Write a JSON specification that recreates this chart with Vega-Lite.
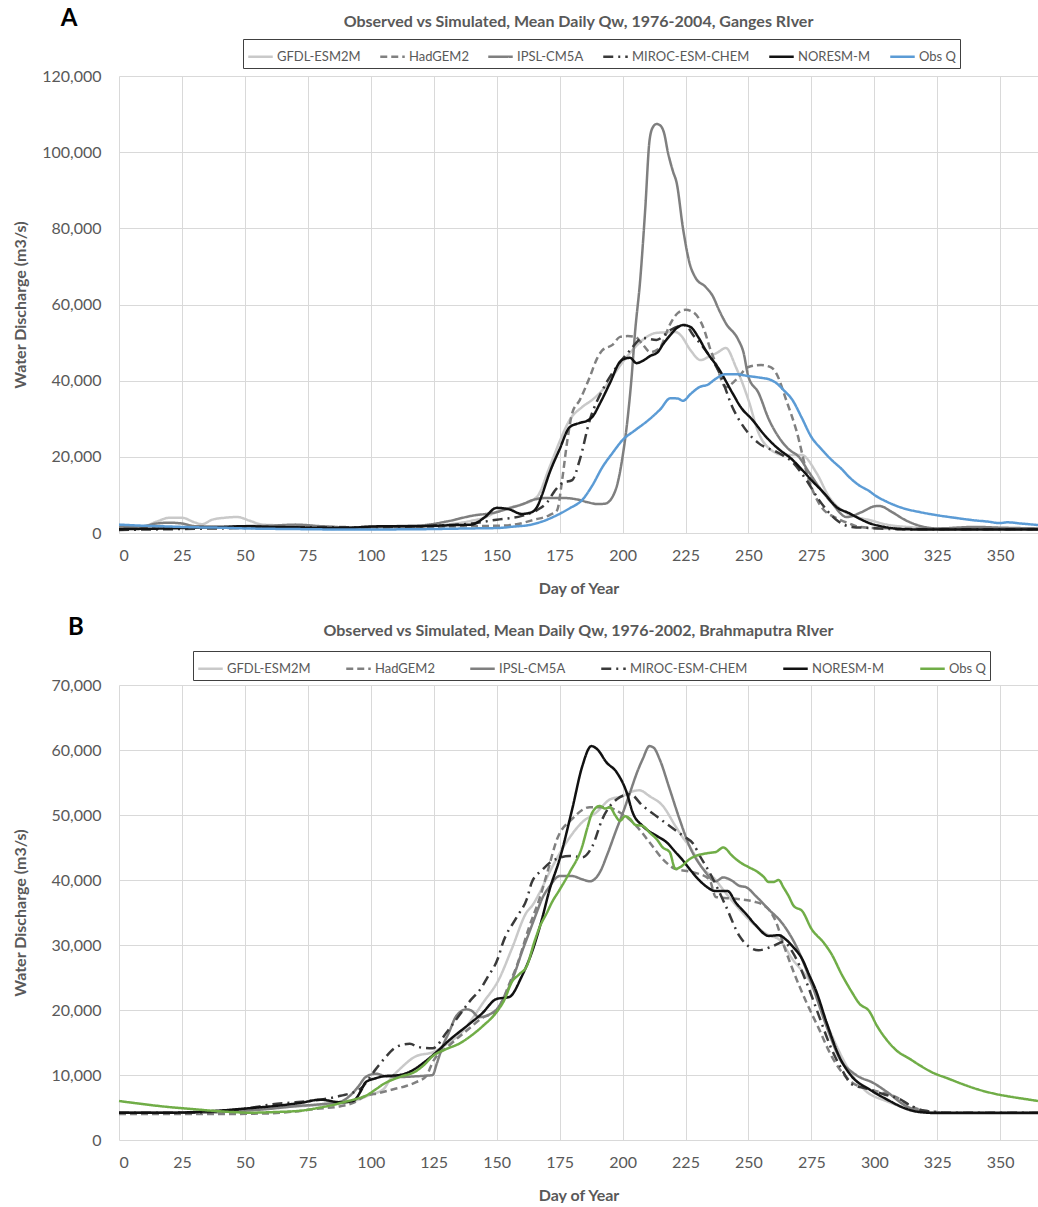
{
"$schema": "https://vega.github.io/schema/vega-lite/v6.json",
"padding": {"left": 12, "top": 7, "right": 0, "bottom": 0},
"background": "white",
"config": {
  "view": {"stroke": null},
  "font": "Lato",
  "title": {"font": "Lato", "fontSize": 16, "fontWeight": "bold", "color": "#595959"},
  "axis": {"labelFont": "Lato", "labelFontSize": 16, "labelColor": "#595959", "titleFont": "Lato", "titleFontSize": 16, "titleFontWeight": "bold", "titleColor": "#595959", "gridColor": "#d9d9d9", "gridWidth": 1, "domain": false, "ticks": false},
  "legend": {"labelFont": "Lato", "labelFontSize": 13, "labelColor": "#595959", "symbolType": "stroke", "symbolSize": 600, "symbolStrokeWidth": 2.5, "strokeColor": "#404040", "padding": 4, "columnPadding": 14, "labelOffset": 3, "direction": "horizontal", "columns": 6, "orient": "none"},
  "concat": {"spacing": 20}
},
"resolve": {"scale": {"color": "independent", "strokeDash": "independent", "x": "independent", "y": "independent"}, "legend": {"color": "independent", "strokeDash": "independent"}},
"datasets": {
"ganges": [
{"s":"GFDL-ESM2M","d":0,"q":1500},{"s":"GFDL-ESM2M","d":10,"q":1800},{"s":"GFDL-ESM2M","d":15,"q":3000},{"s":"GFDL-ESM2M","d":20,"q":4000},{"s":"GFDL-ESM2M","d":25,"q":4000},{"s":"GFDL-ESM2M","d":30,"q":2800},{"s":"GFDL-ESM2M","d":33,"q":2300},{"s":"GFDL-ESM2M","d":37,"q":3500},{"s":"GFDL-ESM2M","d":42,"q":4000},{"s":"GFDL-ESM2M","d":47,"q":4200},{"s":"GFDL-ESM2M","d":52,"q":3200},{"s":"GFDL-ESM2M","d":57,"q":2200},{"s":"GFDL-ESM2M","d":65,"q":2000},{"s":"GFDL-ESM2M","d":75,"q":1800},{"s":"GFDL-ESM2M","d":85,"q":1500},{"s":"GFDL-ESM2M","d":100,"q":1500},{"s":"GFDL-ESM2M","d":110,"q":1600},{"s":"GFDL-ESM2M","d":120,"q":1700},{"s":"GFDL-ESM2M","d":130,"q":2200},{"s":"GFDL-ESM2M","d":140,"q":3200},{"s":"GFDL-ESM2M","d":145,"q":4000},{"s":"GFDL-ESM2M","d":150,"q":5500},{"s":"GFDL-ESM2M","d":156,"q":6800},{"s":"GFDL-ESM2M","d":160,"q":7500},{"s":"GFDL-ESM2M","d":166,"q":9500},{"s":"GFDL-ESM2M","d":171,"q":17300},{"s":"GFDL-ESM2M","d":175,"q":24000},{"s":"GFDL-ESM2M","d":179,"q":29700},{"s":"GFDL-ESM2M","d":184,"q":33100},{"s":"GFDL-ESM2M","d":188,"q":35000},{"s":"GFDL-ESM2M","d":191,"q":36800},{"s":"GFDL-ESM2M","d":195,"q":40000},{"s":"GFDL-ESM2M","d":198,"q":43000},{"s":"GFDL-ESM2M","d":203,"q":47300},{"s":"GFDL-ESM2M","d":208,"q":50700},{"s":"GFDL-ESM2M","d":213,"q":52500},{"s":"GFDL-ESM2M","d":217,"q":52700},{"s":"GFDL-ESM2M","d":221,"q":52800},{"s":"GFDL-ESM2M","d":223,"q":52000},{"s":"GFDL-ESM2M","d":227,"q":48000},{"s":"GFDL-ESM2M","d":231,"q":45400},{"s":"GFDL-ESM2M","d":234,"q":46200},{"s":"GFDL-ESM2M","d":238,"q":47500},{"s":"GFDL-ESM2M","d":241,"q":48600},{"s":"GFDL-ESM2M","d":245,"q":43600},{"s":"GFDL-ESM2M","d":250,"q":34900},{"s":"GFDL-ESM2M","d":254,"q":26300},{"s":"GFDL-ESM2M","d":259,"q":21800},{"s":"GFDL-ESM2M","d":264,"q":20500},{"s":"GFDL-ESM2M","d":271,"q":20500},{"s":"GFDL-ESM2M","d":277,"q":15800},{"s":"GFDL-ESM2M","d":282,"q":9500},{"s":"GFDL-ESM2M","d":289,"q":5200},{"s":"GFDL-ESM2M","d":294,"q":4000},{"s":"GFDL-ESM2M","d":298,"q":3400},{"s":"GFDL-ESM2M","d":305,"q":2200},{"s":"GFDL-ESM2M","d":315,"q":1500},{"s":"GFDL-ESM2M","d":325,"q":1200},{"s":"GFDL-ESM2M","d":340,"q":1300},{"s":"GFDL-ESM2M","d":365,"q":1200},
{"s":"HadGEM2","d":0,"q":1200},{"s":"HadGEM2","d":20,"q":1500},{"s":"HadGEM2","d":40,"q":1500},{"s":"HadGEM2","d":60,"q":1600},{"s":"HadGEM2","d":80,"q":1600},{"s":"HadGEM2","d":100,"q":1500},{"s":"HadGEM2","d":120,"q":1600},{"s":"HadGEM2","d":140,"q":1800},{"s":"HadGEM2","d":150,"q":1900},{"s":"HadGEM2","d":156,"q":2100},{"s":"HadGEM2","d":165,"q":3500},{"s":"HadGEM2","d":171,"q":4700},{"s":"HadGEM2","d":174,"q":6000},{"s":"HadGEM2","d":176,"q":13900},{"s":"HadGEM2","d":178,"q":24000},{"s":"HadGEM2","d":180,"q":31500},{"s":"HadGEM2","d":183,"q":34900},{"s":"HadGEM2","d":187,"q":41000},{"s":"HadGEM2","d":190,"q":46000},{"s":"HadGEM2","d":192,"q":48000},{"s":"HadGEM2","d":196,"q":49400},{"s":"HadGEM2","d":199,"q":51500},{"s":"HadGEM2","d":202,"q":51700},{"s":"HadGEM2","d":205,"q":51500},{"s":"HadGEM2","d":208,"q":49500},{"s":"HadGEM2","d":211,"q":47500},{"s":"HadGEM2","d":213,"q":47800},{"s":"HadGEM2","d":215,"q":48800},{"s":"HadGEM2","d":219,"q":55000},{"s":"HadGEM2","d":222,"q":57800},{"s":"HadGEM2","d":225,"q":58600},{"s":"HadGEM2","d":228,"q":58000},{"s":"HadGEM2","d":232,"q":54100},{"s":"HadGEM2","d":235,"q":48000},{"s":"HadGEM2","d":237,"q":44600},{"s":"HadGEM2","d":241,"q":38300},{"s":"HadGEM2","d":245,"q":40200},{"s":"HadGEM2","d":250,"q":43600},{"s":"HadGEM2","d":255,"q":44100},{"s":"HadGEM2","d":259,"q":43500},{"s":"HadGEM2","d":261,"q":42000},{"s":"HadGEM2","d":265,"q":34900},{"s":"HadGEM2","d":269,"q":27000},{"s":"HadGEM2","d":274,"q":13900},{"s":"HadGEM2","d":279,"q":6800},{"s":"HadGEM2","d":285,"q":3900},{"s":"HadGEM2","d":290,"q":2500},{"s":"HadGEM2","d":294,"q":1600},{"s":"HadGEM2","d":300,"q":1300},{"s":"HadGEM2","d":310,"q":1200},{"s":"HadGEM2","d":330,"q":1000},{"s":"HadGEM2","d":365,"q":1000},
{"s":"IPSL-CM5A","d":0,"q":1500},{"s":"IPSL-CM5A","d":10,"q":1800},{"s":"IPSL-CM5A","d":15,"q":2500},{"s":"IPSL-CM5A","d":20,"q":2700},{"s":"IPSL-CM5A","d":25,"q":2500},{"s":"IPSL-CM5A","d":30,"q":1800},{"s":"IPSL-CM5A","d":40,"q":1700},{"s":"IPSL-CM5A","d":50,"q":1800},{"s":"IPSL-CM5A","d":60,"q":1900},{"s":"IPSL-CM5A","d":70,"q":2200},{"s":"IPSL-CM5A","d":80,"q":1800},{"s":"IPSL-CM5A","d":90,"q":1500},{"s":"IPSL-CM5A","d":100,"q":1600},{"s":"IPSL-CM5A","d":110,"q":1800},{"s":"IPSL-CM5A","d":120,"q":2000},{"s":"IPSL-CM5A","d":130,"q":3000},{"s":"IPSL-CM5A","d":140,"q":4500},{"s":"IPSL-CM5A","d":150,"q":5500},{"s":"IPSL-CM5A","d":155,"q":6500},{"s":"IPSL-CM5A","d":160,"q":7500},{"s":"IPSL-CM5A","d":165,"q":8800},{"s":"IPSL-CM5A","d":170,"q":9200},{"s":"IPSL-CM5A","d":176,"q":9200},{"s":"IPSL-CM5A","d":182,"q":8800},{"s":"IPSL-CM5A","d":186,"q":8100},{"s":"IPSL-CM5A","d":190,"q":7600},{"s":"IPSL-CM5A","d":193,"q":7700},{"s":"IPSL-CM5A","d":196,"q":9500},{"s":"IPSL-CM5A","d":198,"q":13000},{"s":"IPSL-CM5A","d":200,"q":20000},{"s":"IPSL-CM5A","d":202,"q":30000},{"s":"IPSL-CM5A","d":203.5,"q":40200},{"s":"IPSL-CM5A","d":205,"q":53000},{"s":"IPSL-CM5A","d":207,"q":66400},{"s":"IPSL-CM5A","d":209,"q":85000},{"s":"IPSL-CM5A","d":210.7,"q":103000},{"s":"IPSL-CM5A","d":212,"q":106500},{"s":"IPSL-CM5A","d":213.5,"q":107400},{"s":"IPSL-CM5A","d":215,"q":107000},{"s":"IPSL-CM5A","d":216.5,"q":105000},{"s":"IPSL-CM5A","d":218,"q":100000},{"s":"IPSL-CM5A","d":220,"q":95000},{"s":"IPSL-CM5A","d":221.5,"q":91900},{"s":"IPSL-CM5A","d":224,"q":80000},{"s":"IPSL-CM5A","d":226.6,"q":70900},{"s":"IPSL-CM5A","d":229,"q":67000},{"s":"IPSL-CM5A","d":233,"q":64600},{"s":"IPSL-CM5A","d":236,"q":62000},{"s":"IPSL-CM5A","d":238,"q":59000},{"s":"IPSL-CM5A","d":241,"q":55100},{"s":"IPSL-CM5A","d":246,"q":50700},{"s":"IPSL-CM5A","d":248,"q":47500},{"s":"IPSL-CM5A","d":250,"q":41000},{"s":"IPSL-CM5A","d":254,"q":36800},{"s":"IPSL-CM5A","d":258,"q":30000},{"s":"IPSL-CM5A","d":262,"q":25200},{"s":"IPSL-CM5A","d":266,"q":22000},{"s":"IPSL-CM5A","d":270,"q":20000},{"s":"IPSL-CM5A","d":274,"q":16000},{"s":"IPSL-CM5A","d":278,"q":12100},{"s":"IPSL-CM5A","d":283,"q":8000},{"s":"IPSL-CM5A","d":289,"q":4200},{"s":"IPSL-CM5A","d":295,"q":5500},{"s":"IPSL-CM5A","d":300,"q":7000},{"s":"IPSL-CM5A","d":302,"q":7100},{"s":"IPSL-CM5A","d":307,"q":5500},{"s":"IPSL-CM5A","d":312,"q":3500},{"s":"IPSL-CM5A","d":317,"q":2100},{"s":"IPSL-CM5A","d":325,"q":1200},{"s":"IPSL-CM5A","d":340,"q":1600},{"s":"IPSL-CM5A","d":350,"q":1400},{"s":"IPSL-CM5A","d":365,"q":1200},
{"s":"MIROC-ESM-CHEM","d":0,"q":800},{"s":"MIROC-ESM-CHEM","d":20,"q":1000},{"s":"MIROC-ESM-CHEM","d":40,"q":1200},{"s":"MIROC-ESM-CHEM","d":60,"q":1400},{"s":"MIROC-ESM-CHEM","d":80,"q":1500},{"s":"MIROC-ESM-CHEM","d":100,"q":1500},{"s":"MIROC-ESM-CHEM","d":120,"q":1800},{"s":"MIROC-ESM-CHEM","d":140,"q":2500},{"s":"MIROC-ESM-CHEM","d":150,"q":3500},{"s":"MIROC-ESM-CHEM","d":160,"q":4500},{"s":"MIROC-ESM-CHEM","d":166,"q":6000},{"s":"MIROC-ESM-CHEM","d":170,"q":8000},{"s":"MIROC-ESM-CHEM","d":173,"q":11000},{"s":"MIROC-ESM-CHEM","d":176,"q":13100},{"s":"MIROC-ESM-CHEM","d":180,"q":13900},{"s":"MIROC-ESM-CHEM","d":183,"q":19200},{"s":"MIROC-ESM-CHEM","d":187,"q":29700},{"s":"MIROC-ESM-CHEM","d":192,"q":37500},{"s":"MIROC-ESM-CHEM","d":197.6,"q":43600},{"s":"MIROC-ESM-CHEM","d":203,"q":48000},{"s":"MIROC-ESM-CHEM","d":208,"q":51200},{"s":"MIROC-ESM-CHEM","d":213.5,"q":50700},{"s":"MIROC-ESM-CHEM","d":219,"q":53300},{"s":"MIROC-ESM-CHEM","d":225,"q":54600},{"s":"MIROC-ESM-CHEM","d":228,"q":52000},{"s":"MIROC-ESM-CHEM","d":232,"q":48800},{"s":"MIROC-ESM-CHEM","d":238.5,"q":42000},{"s":"MIROC-ESM-CHEM","d":243.6,"q":33100},{"s":"MIROC-ESM-CHEM","d":249.6,"q":26500},{"s":"MIROC-ESM-CHEM","d":254,"q":23600},{"s":"MIROC-ESM-CHEM","d":262,"q":21000},{"s":"MIROC-ESM-CHEM","d":267.5,"q":18600},{"s":"MIROC-ESM-CHEM","d":273,"q":13900},{"s":"MIROC-ESM-CHEM","d":278,"q":8700},{"s":"MIROC-ESM-CHEM","d":285,"q":3400},{"s":"MIROC-ESM-CHEM","d":291,"q":1600},{"s":"MIROC-ESM-CHEM","d":299,"q":1300},{"s":"MIROC-ESM-CHEM","d":310,"q":1000},{"s":"MIROC-ESM-CHEM","d":365,"q":1000},
{"s":"NORESM-M","d":0,"q":1000},{"s":"NORESM-M","d":10,"q":1100},{"s":"NORESM-M","d":20,"q":1200},{"s":"NORESM-M","d":30,"q":1400},{"s":"NORESM-M","d":40,"q":1500},{"s":"NORESM-M","d":50,"q":1800},{"s":"NORESM-M","d":60,"q":1600},{"s":"NORESM-M","d":70,"q":1500},{"s":"NORESM-M","d":80,"q":1300},{"s":"NORESM-M","d":90,"q":1300},{"s":"NORESM-M","d":100,"q":1700},{"s":"NORESM-M","d":110,"q":1800},{"s":"NORESM-M","d":120,"q":1800},{"s":"NORESM-M","d":130,"q":2000},{"s":"NORESM-M","d":135,"q":2100},{"s":"NORESM-M","d":140,"q":2200},{"s":"NORESM-M","d":145,"q":4000},{"s":"NORESM-M","d":150,"q":6600},{"s":"NORESM-M","d":155,"q":6200},{"s":"NORESM-M","d":160,"q":5000},{"s":"NORESM-M","d":164,"q":5500},{"s":"NORESM-M","d":166,"q":6800},{"s":"NORESM-M","d":168,"q":10000},{"s":"NORESM-M","d":171,"q":15800},{"s":"NORESM-M","d":175,"q":22000},{"s":"NORESM-M","d":179,"q":27800},{"s":"NORESM-M","d":183,"q":28900},{"s":"NORESM-M","d":186,"q":29500},{"s":"NORESM-M","d":188,"q":30500},{"s":"NORESM-M","d":191,"q":34000},{"s":"NORESM-M","d":195,"q":39400},{"s":"NORESM-M","d":199,"q":45000},{"s":"NORESM-M","d":201,"q":45800},{"s":"NORESM-M","d":203,"q":46000},{"s":"NORESM-M","d":205.5,"q":44600},{"s":"NORESM-M","d":208,"q":45200},{"s":"NORESM-M","d":211,"q":46500},{"s":"NORESM-M","d":214,"q":47500},{"s":"NORESM-M","d":216,"q":49500},{"s":"NORESM-M","d":219,"q":52000},{"s":"NORESM-M","d":221.5,"q":53800},{"s":"NORESM-M","d":224,"q":54600},{"s":"NORESM-M","d":227,"q":54100},{"s":"NORESM-M","d":230,"q":51500},{"s":"NORESM-M","d":233,"q":48000},{"s":"NORESM-M","d":238.5,"q":42800},{"s":"NORESM-M","d":243.6,"q":36800},{"s":"NORESM-M","d":247,"q":33000},{"s":"NORESM-M","d":251.6,"q":29700},{"s":"NORESM-M","d":256,"q":26000},{"s":"NORESM-M","d":261,"q":22600},{"s":"NORESM-M","d":267.5,"q":19200},{"s":"NORESM-M","d":271,"q":16800},{"s":"NORESM-M","d":275,"q":13900},{"s":"NORESM-M","d":280,"q":10500},{"s":"NORESM-M","d":285,"q":6800},{"s":"NORESM-M","d":290,"q":5200},{"s":"NORESM-M","d":294,"q":3800},{"s":"NORESM-M","d":298,"q":2600},{"s":"NORESM-M","d":304,"q":1600},{"s":"NORESM-M","d":310,"q":1050},{"s":"NORESM-M","d":320,"q":900},{"s":"NORESM-M","d":365,"q":900},
{"s":"Obs Q","d":0,"q":2200},{"s":"Obs Q","d":10,"q":1900},{"s":"Obs Q","d":20,"q":1700},{"s":"Obs Q","d":30,"q":1500},{"s":"Obs Q","d":40,"q":1400},{"s":"Obs Q","d":50,"q":1200},{"s":"Obs Q","d":60,"q":1100},{"s":"Obs Q","d":75,"q":1000},{"s":"Obs Q","d":90,"q":900},{"s":"Obs Q","d":100,"q":900},{"s":"Obs Q","d":110,"q":950},{"s":"Obs Q","d":120,"q":1000},{"s":"Obs Q","d":130,"q":1100},{"s":"Obs Q","d":140,"q":1200},{"s":"Obs Q","d":150,"q":1300},{"s":"Obs Q","d":157,"q":1700},{"s":"Obs Q","d":163,"q":2100},{"s":"Obs Q","d":168,"q":3000},{"s":"Obs Q","d":174,"q":4700},{"s":"Obs Q","d":179,"q":6500},{"s":"Obs Q","d":184,"q":8700},{"s":"Obs Q","d":188,"q":12500},{"s":"Obs Q","d":192,"q":17300},{"s":"Obs Q","d":196,"q":21000},{"s":"Obs Q","d":200,"q":24400},{"s":"Obs Q","d":205,"q":27000},{"s":"Obs Q","d":210,"q":29500},{"s":"Obs Q","d":215,"q":32500},{"s":"Obs Q","d":219,"q":35400},{"s":"Obs Q","d":222,"q":35300},{"s":"Obs Q","d":224,"q":34700},{"s":"Obs Q","d":227,"q":36500},{"s":"Obs Q","d":230.5,"q":38300},{"s":"Obs Q","d":234,"q":39000},{"s":"Obs Q","d":237,"q":40500},{"s":"Obs Q","d":241,"q":41700},{"s":"Obs Q","d":245,"q":41700},{"s":"Obs Q","d":250,"q":41200},{"s":"Obs Q","d":255.5,"q":40700},{"s":"Obs Q","d":258,"q":40400},{"s":"Obs Q","d":261,"q":39400},{"s":"Obs Q","d":264,"q":37500},{"s":"Obs Q","d":267.5,"q":34900},{"s":"Obs Q","d":271,"q":30500},{"s":"Obs Q","d":275,"q":25200},{"s":"Obs Q","d":279,"q":22000},{"s":"Obs Q","d":283,"q":19200},{"s":"Obs Q","d":287,"q":16800},{"s":"Obs Q","d":290,"q":14700},{"s":"Obs Q","d":294,"q":12500},{"s":"Obs Q","d":298,"q":11000},{"s":"Obs Q","d":300,"q":10000},{"s":"Obs Q","d":305,"q":8200},{"s":"Obs Q","d":311,"q":6600},{"s":"Obs Q","d":318,"q":5500},{"s":"Obs Q","d":324.6,"q":4700},{"s":"Obs Q","d":333,"q":3900},{"s":"Obs Q","d":340,"q":3300},{"s":"Obs Q","d":345,"q":3000},{"s":"Obs Q","d":349.6,"q":2600},{"s":"Obs Q","d":353,"q":2800},{"s":"Obs Q","d":358,"q":2500},{"s":"Obs Q","d":365,"q":2100}
],
"brahma": [
{"s":"GFDL-ESM2M","d":0,"q":4200},{"s":"GFDL-ESM2M","d":20,"q":4200},{"s":"GFDL-ESM2M","d":40,"q":4300},{"s":"GFDL-ESM2M","d":50,"q":4600},{"s":"GFDL-ESM2M","d":60,"q":4900},{"s":"GFDL-ESM2M","d":72,"q":5200},{"s":"GFDL-ESM2M","d":80,"q":5400},{"s":"GFDL-ESM2M","d":90,"q":5700},{"s":"GFDL-ESM2M","d":95,"q":6200},{"s":"GFDL-ESM2M","d":100,"q":7000},{"s":"GFDL-ESM2M","d":105,"q":7800},{"s":"GFDL-ESM2M","d":108,"q":9500},{"s":"GFDL-ESM2M","d":111.5,"q":10900},{"s":"GFDL-ESM2M","d":118,"q":12900},{"s":"GFDL-ESM2M","d":124.6,"q":13500},{"s":"GFDL-ESM2M","d":131,"q":15000},{"s":"GFDL-ESM2M","d":136,"q":16500},{"s":"GFDL-ESM2M","d":140,"q":18500},{"s":"GFDL-ESM2M","d":144.4,"q":21000},{"s":"GFDL-ESM2M","d":151,"q":24800},{"s":"GFDL-ESM2M","d":156,"q":29400},{"s":"GFDL-ESM2M","d":162,"q":35100},{"s":"GFDL-ESM2M","d":164,"q":36000},{"s":"GFDL-ESM2M","d":167,"q":38000},{"s":"GFDL-ESM2M","d":171,"q":41200},{"s":"GFDL-ESM2M","d":177.7,"q":45800},{"s":"GFDL-ESM2M","d":184,"q":48900},{"s":"GFDL-ESM2M","d":189.6,"q":50400},{"s":"GFDL-ESM2M","d":195,"q":52400},{"s":"GFDL-ESM2M","d":200,"q":52900},{"s":"GFDL-ESM2M","d":203,"q":53500},{"s":"GFDL-ESM2M","d":206.7,"q":53800},{"s":"GFDL-ESM2M","d":210.7,"q":52900},{"s":"GFDL-ESM2M","d":216,"q":51400},{"s":"GFDL-ESM2M","d":221,"q":48300},{"s":"GFDL-ESM2M","d":224,"q":46500},{"s":"GFDL-ESM2M","d":226.6,"q":45200},{"s":"GFDL-ESM2M","d":232,"q":41700},{"s":"GFDL-ESM2M","d":236,"q":40400},{"s":"GFDL-ESM2M","d":241,"q":38000},{"s":"GFDL-ESM2M","d":246.4,"q":35500},{"s":"GFDL-ESM2M","d":253,"q":32900},{"s":"GFDL-ESM2M","d":258,"q":31500},{"s":"GFDL-ESM2M","d":262,"q":30900},{"s":"GFDL-ESM2M","d":267.5,"q":27800},{"s":"GFDL-ESM2M","d":275.4,"q":23700},{"s":"GFDL-ESM2M","d":282,"q":17100},{"s":"GFDL-ESM2M","d":289,"q":11400},{"s":"GFDL-ESM2M","d":293,"q":9000},{"s":"GFDL-ESM2M","d":297,"q":7400},{"s":"GFDL-ESM2M","d":304.7,"q":6000},{"s":"GFDL-ESM2M","d":310,"q":5200},{"s":"GFDL-ESM2M","d":315,"q":4500},{"s":"GFDL-ESM2M","d":325,"q":4200},{"s":"GFDL-ESM2M","d":365,"q":4200},
{"s":"HadGEM2","d":0,"q":4000},{"s":"HadGEM2","d":20,"q":4000},{"s":"HadGEM2","d":40,"q":4000},{"s":"HadGEM2","d":60,"q":4100},{"s":"HadGEM2","d":70,"q":4400},{"s":"HadGEM2","d":78.6,"q":4800},{"s":"HadGEM2","d":88,"q":5200},{"s":"HadGEM2","d":93,"q":5700},{"s":"HadGEM2","d":98,"q":6800},{"s":"HadGEM2","d":103,"q":7200},{"s":"HadGEM2","d":109,"q":7800},{"s":"HadGEM2","d":114,"q":8300},{"s":"HadGEM2","d":118,"q":8900},{"s":"HadGEM2","d":122,"q":9800},{"s":"HadGEM2","d":124.6,"q":12000},{"s":"HadGEM2","d":131,"q":14500},{"s":"HadGEM2","d":138,"q":16800},{"s":"HadGEM2","d":144.4,"q":18800},{"s":"HadGEM2","d":150,"q":19800},{"s":"HadGEM2","d":152,"q":21200},{"s":"HadGEM2","d":155,"q":24000},{"s":"HadGEM2","d":158,"q":26800},{"s":"HadGEM2","d":163,"q":32900},{"s":"HadGEM2","d":167,"q":37100},{"s":"HadGEM2","d":170,"q":41000},{"s":"HadGEM2","d":174,"q":46300},{"s":"HadGEM2","d":180,"q":49400},{"s":"HadGEM2","d":187,"q":51200},{"s":"HadGEM2","d":193.6,"q":51200},{"s":"HadGEM2","d":200,"q":50100},{"s":"HadGEM2","d":205.5,"q":48300},{"s":"HadGEM2","d":210.7,"q":45800},{"s":"HadGEM2","d":216,"q":43200},{"s":"HadGEM2","d":221,"q":41700},{"s":"HadGEM2","d":228,"q":41200},{"s":"HadGEM2","d":234.5,"q":40100},{"s":"HadGEM2","d":237,"q":37400},{"s":"HadGEM2","d":245,"q":37100},{"s":"HadGEM2","d":253,"q":36600},{"s":"HadGEM2","d":258,"q":35500},{"s":"HadGEM2","d":261,"q":33500},{"s":"HadGEM2","d":264,"q":30000},{"s":"HadGEM2","d":267.5,"q":26300},{"s":"HadGEM2","d":273,"q":21200},{"s":"HadGEM2","d":278,"q":17100},{"s":"HadGEM2","d":283,"q":12900},{"s":"HadGEM2","d":287,"q":10500},{"s":"HadGEM2","d":291,"q":8900},{"s":"HadGEM2","d":296,"q":8000},{"s":"HadGEM2","d":302,"q":7400},{"s":"HadGEM2","d":308.7,"q":6600},{"s":"HadGEM2","d":315,"q":5100},{"s":"HadGEM2","d":320,"q":4500},{"s":"HadGEM2","d":330,"q":4200},{"s":"HadGEM2","d":365,"q":4200},
{"s":"IPSL-CM5A","d":0,"q":4200},{"s":"IPSL-CM5A","d":30,"q":4200},{"s":"IPSL-CM5A","d":40,"q":4300},{"s":"IPSL-CM5A","d":50,"q":4500},{"s":"IPSL-CM5A","d":60,"q":4800},{"s":"IPSL-CM5A","d":70,"q":5200},{"s":"IPSL-CM5A","d":80,"q":5500},{"s":"IPSL-CM5A","d":88,"q":5900},{"s":"IPSL-CM5A","d":91.7,"q":6800},{"s":"IPSL-CM5A","d":95,"q":8200},{"s":"IPSL-CM5A","d":98,"q":9700},{"s":"IPSL-CM5A","d":102,"q":10200},{"s":"IPSL-CM5A","d":106,"q":9800},{"s":"IPSL-CM5A","d":112,"q":9700},{"s":"IPSL-CM5A","d":118,"q":9800},{"s":"IPSL-CM5A","d":122,"q":9900},{"s":"IPSL-CM5A","d":124.6,"q":10000},{"s":"IPSL-CM5A","d":126,"q":11500},{"s":"IPSL-CM5A","d":128.6,"q":14500},{"s":"IPSL-CM5A","d":131,"q":16500},{"s":"IPSL-CM5A","d":134,"q":19100},{"s":"IPSL-CM5A","d":138,"q":20100},{"s":"IPSL-CM5A","d":140,"q":19900},{"s":"IPSL-CM5A","d":143,"q":18900},{"s":"IPSL-CM5A","d":147,"q":19300},{"s":"IPSL-CM5A","d":150,"q":20100},{"s":"IPSL-CM5A","d":154,"q":22800},{"s":"IPSL-CM5A","d":157,"q":25500},{"s":"IPSL-CM5A","d":160,"q":28900},{"s":"IPSL-CM5A","d":163,"q":32000},{"s":"IPSL-CM5A","d":166,"q":35100},{"s":"IPSL-CM5A","d":168,"q":37100},{"s":"IPSL-CM5A","d":171,"q":39000},{"s":"IPSL-CM5A","d":175,"q":40600},{"s":"IPSL-CM5A","d":180,"q":40600},{"s":"IPSL-CM5A","d":184,"q":40100},{"s":"IPSL-CM5A","d":187,"q":39800},{"s":"IPSL-CM5A","d":191,"q":41200},{"s":"IPSL-CM5A","d":194,"q":44000},{"s":"IPSL-CM5A","d":197.6,"q":47800},{"s":"IPSL-CM5A","d":200,"q":50200},{"s":"IPSL-CM5A","d":203,"q":53500},{"s":"IPSL-CM5A","d":206,"q":56800},{"s":"IPSL-CM5A","d":208,"q":58600},{"s":"IPSL-CM5A","d":210.7,"q":60600},{"s":"IPSL-CM5A","d":212.5,"q":60300},{"s":"IPSL-CM5A","d":214.7,"q":58600},{"s":"IPSL-CM5A","d":218.7,"q":54000},{"s":"IPSL-CM5A","d":222.6,"q":49400},{"s":"IPSL-CM5A","d":226.6,"q":45200},{"s":"IPSL-CM5A","d":232,"q":41700},{"s":"IPSL-CM5A","d":237,"q":39800},{"s":"IPSL-CM5A","d":240,"q":40400},{"s":"IPSL-CM5A","d":243,"q":40000},{"s":"IPSL-CM5A","d":246.4,"q":39100},{"s":"IPSL-CM5A","d":249,"q":38900},{"s":"IPSL-CM5A","d":253,"q":37500},{"s":"IPSL-CM5A","d":258,"q":35500},{"s":"IPSL-CM5A","d":263.5,"q":33300},{"s":"IPSL-CM5A","d":269,"q":29800},{"s":"IPSL-CM5A","d":275.4,"q":23700},{"s":"IPSL-CM5A","d":281,"q":17500},{"s":"IPSL-CM5A","d":287,"q":12000},{"s":"IPSL-CM5A","d":291,"q":10500},{"s":"IPSL-CM5A","d":294,"q":9700},{"s":"IPSL-CM5A","d":299,"q":8900},{"s":"IPSL-CM5A","d":305,"q":7400},{"s":"IPSL-CM5A","d":312.7,"q":5200},{"s":"IPSL-CM5A","d":318,"q":4500},{"s":"IPSL-CM5A","d":325,"q":4200},{"s":"IPSL-CM5A","d":365,"q":4200},
{"s":"MIROC-ESM-CHEM","d":0,"q":4200},{"s":"MIROC-ESM-CHEM","d":30,"q":4200},{"s":"MIROC-ESM-CHEM","d":40,"q":4400},{"s":"MIROC-ESM-CHEM","d":50,"q":4800},{"s":"MIROC-ESM-CHEM","d":61,"q":5500},{"s":"MIROC-ESM-CHEM","d":70,"q":5800},{"s":"MIROC-ESM-CHEM","d":80,"q":6200},{"s":"MIROC-ESM-CHEM","d":88,"q":6800},{"s":"MIROC-ESM-CHEM","d":95.6,"q":7800},{"s":"MIROC-ESM-CHEM","d":102,"q":10900},{"s":"MIROC-ESM-CHEM","d":106,"q":12800},{"s":"MIROC-ESM-CHEM","d":109,"q":14000},{"s":"MIROC-ESM-CHEM","d":112,"q":14600},{"s":"MIROC-ESM-CHEM","d":115.5,"q":14800},{"s":"MIROC-ESM-CHEM","d":119,"q":14300},{"s":"MIROC-ESM-CHEM","d":124.6,"q":14100},{"s":"MIROC-ESM-CHEM","d":130,"q":16500},{"s":"MIROC-ESM-CHEM","d":135,"q":19100},{"s":"MIROC-ESM-CHEM","d":139,"q":21200},{"s":"MIROC-ESM-CHEM","d":144.4,"q":23700},{"s":"MIROC-ESM-CHEM","d":146,"q":24800},{"s":"MIROC-ESM-CHEM","d":151,"q":28500},{"s":"MIROC-ESM-CHEM","d":152,"q":29800},{"s":"MIROC-ESM-CHEM","d":158,"q":34300},{"s":"MIROC-ESM-CHEM","d":162,"q":37100},{"s":"MIROC-ESM-CHEM","d":164,"q":39700},{"s":"MIROC-ESM-CHEM","d":168,"q":41500},{"s":"MIROC-ESM-CHEM","d":172,"q":42900},{"s":"MIROC-ESM-CHEM","d":179,"q":43700},{"s":"MIROC-ESM-CHEM","d":184,"q":43500},{"s":"MIROC-ESM-CHEM","d":188,"q":45200},{"s":"MIROC-ESM-CHEM","d":192,"q":49400},{"s":"MIROC-ESM-CHEM","d":197.6,"q":52400},{"s":"MIROC-ESM-CHEM","d":203,"q":53200},{"s":"MIROC-ESM-CHEM","d":208,"q":51400},{"s":"MIROC-ESM-CHEM","d":213.5,"q":49800},{"s":"MIROC-ESM-CHEM","d":218.7,"q":48300},{"s":"MIROC-ESM-CHEM","d":224,"q":46800},{"s":"MIROC-ESM-CHEM","d":228,"q":45600},{"s":"MIROC-ESM-CHEM","d":231,"q":43500},{"s":"MIROC-ESM-CHEM","d":234.5,"q":41200},{"s":"MIROC-ESM-CHEM","d":241,"q":36000},{"s":"MIROC-ESM-CHEM","d":246.4,"q":31400},{"s":"MIROC-ESM-CHEM","d":250,"q":29800},{"s":"MIROC-ESM-CHEM","d":254,"q":29200},{"s":"MIROC-ESM-CHEM","d":259.5,"q":29800},{"s":"MIROC-ESM-CHEM","d":264,"q":30500},{"s":"MIROC-ESM-CHEM","d":267.5,"q":28900},{"s":"MIROC-ESM-CHEM","d":273,"q":24300},{"s":"MIROC-ESM-CHEM","d":278,"q":19100},{"s":"MIROC-ESM-CHEM","d":283,"q":14000},{"s":"MIROC-ESM-CHEM","d":287,"q":10900},{"s":"MIROC-ESM-CHEM","d":291,"q":8600},{"s":"MIROC-ESM-CHEM","d":297,"q":7900},{"s":"MIROC-ESM-CHEM","d":304,"q":7000},{"s":"MIROC-ESM-CHEM","d":310,"q":6300},{"s":"MIROC-ESM-CHEM","d":315,"q":5200},{"s":"MIROC-ESM-CHEM","d":320,"q":4500},{"s":"MIROC-ESM-CHEM","d":330,"q":4200},{"s":"MIROC-ESM-CHEM","d":365,"q":4200},
{"s":"NORESM-M","d":0,"q":4200},{"s":"NORESM-M","d":20,"q":4200},{"s":"NORESM-M","d":39,"q":4500},{"s":"NORESM-M","d":52,"q":4900},{"s":"NORESM-M","d":61,"q":5200},{"s":"NORESM-M","d":72,"q":5700},{"s":"NORESM-M","d":80,"q":6200},{"s":"NORESM-M","d":88,"q":5800},{"s":"NORESM-M","d":93,"q":6000},{"s":"NORESM-M","d":96,"q":7500},{"s":"NORESM-M","d":98,"q":8900},{"s":"NORESM-M","d":102,"q":9500},{"s":"NORESM-M","d":105,"q":9800},{"s":"NORESM-M","d":111.5,"q":10000},{"s":"NORESM-M","d":115.5,"q":10500},{"s":"NORESM-M","d":122,"q":12200},{"s":"NORESM-M","d":126,"q":13500},{"s":"NORESM-M","d":131,"q":15300},{"s":"NORESM-M","d":139,"q":17800},{"s":"NORESM-M","d":144,"q":19400},{"s":"NORESM-M","d":150,"q":21700},{"s":"NORESM-M","d":155,"q":22000},{"s":"NORESM-M","d":160,"q":25200},{"s":"NORESM-M","d":164,"q":28900},{"s":"NORESM-M","d":168,"q":34000},{"s":"NORESM-M","d":171,"q":38500},{"s":"NORESM-M","d":175,"q":43200},{"s":"NORESM-M","d":180,"q":50900},{"s":"NORESM-M","d":184,"q":57500},{"s":"NORESM-M","d":187.6,"q":60600},{"s":"NORESM-M","d":190,"q":60100},{"s":"NORESM-M","d":193.6,"q":58100},{"s":"NORESM-M","d":197.6,"q":56600},{"s":"NORESM-M","d":201.6,"q":53500},{"s":"NORESM-M","d":204,"q":50400},{"s":"NORESM-M","d":208,"q":48300},{"s":"NORESM-M","d":213.5,"q":46800},{"s":"NORESM-M","d":217.5,"q":45800},{"s":"NORESM-M","d":221,"q":44300},{"s":"NORESM-M","d":224,"q":43000},{"s":"NORESM-M","d":226.6,"q":41700},{"s":"NORESM-M","d":232,"q":39400},{"s":"NORESM-M","d":237,"q":38300},{"s":"NORESM-M","d":241.7,"q":38300},{"s":"NORESM-M","d":245,"q":36500},{"s":"NORESM-M","d":249,"q":34800},{"s":"NORESM-M","d":253,"q":33000},{"s":"NORESM-M","d":258,"q":31400},{"s":"NORESM-M","d":262,"q":31500},{"s":"NORESM-M","d":265,"q":30800},{"s":"NORESM-M","d":267.5,"q":29800},{"s":"NORESM-M","d":271.4,"q":27800},{"s":"NORESM-M","d":274,"q":25500},{"s":"NORESM-M","d":277,"q":22800},{"s":"NORESM-M","d":281,"q":18100},{"s":"NORESM-M","d":286,"q":12900},{"s":"NORESM-M","d":291,"q":9800},{"s":"NORESM-M","d":298,"q":7800},{"s":"NORESM-M","d":304.7,"q":6300},{"s":"NORESM-M","d":312.7,"q":4800},{"s":"NORESM-M","d":318,"q":4300},{"s":"NORESM-M","d":325,"q":4150},{"s":"NORESM-M","d":365,"q":4150},
{"s":"Obs Q","d":0,"q":6000},{"s":"Obs Q","d":10,"q":5500},{"s":"Obs Q","d":19,"q":5100},{"s":"Obs Q","d":28,"q":4800},{"s":"Obs Q","d":37,"q":4500},{"s":"Obs Q","d":45,"q":4300},{"s":"Obs Q","d":52,"q":4200},{"s":"Obs Q","d":62,"q":4300},{"s":"Obs Q","d":72,"q":4500},{"s":"Obs Q","d":80,"q":5000},{"s":"Obs Q","d":85,"q":5400},{"s":"Obs Q","d":90,"q":5900},{"s":"Obs Q","d":95,"q":6400},{"s":"Obs Q","d":98,"q":6800},{"s":"Obs Q","d":102,"q":7800},{"s":"Obs Q","d":105,"q":8600},{"s":"Obs Q","d":111.5,"q":9700},{"s":"Obs Q","d":118,"q":10600},{"s":"Obs Q","d":121,"q":11500},{"s":"Obs Q","d":124.6,"q":12900},{"s":"Obs Q","d":130,"q":14000},{"s":"Obs Q","d":135,"q":14800},{"s":"Obs Q","d":139,"q":15800},{"s":"Obs Q","d":144.4,"q":17500},{"s":"Obs Q","d":150,"q":19700},{"s":"Obs Q","d":153,"q":21500},{"s":"Obs Q","d":156,"q":24300},{"s":"Obs Q","d":159,"q":25500},{"s":"Obs Q","d":162,"q":26800},{"s":"Obs Q","d":165,"q":30500},{"s":"Obs Q","d":167,"q":32700},{"s":"Obs Q","d":170,"q":35000},{"s":"Obs Q","d":172,"q":36600},{"s":"Obs Q","d":175,"q":38500},{"s":"Obs Q","d":179,"q":41200},{"s":"Obs Q","d":184,"q":45200},{"s":"Obs Q","d":186,"q":48000},{"s":"Obs Q","d":188,"q":50400},{"s":"Obs Q","d":191,"q":51400},{"s":"Obs Q","d":193,"q":51000},{"s":"Obs Q","d":195,"q":51200},{"s":"Obs Q","d":197,"q":50000},{"s":"Obs Q","d":199,"q":49100},{"s":"Obs Q","d":201,"q":49800},{"s":"Obs Q","d":203,"q":49400},{"s":"Obs Q","d":205,"q":48500},{"s":"Obs Q","d":208,"q":48300},{"s":"Obs Q","d":211,"q":47200},{"s":"Obs Q","d":213.5,"q":46300},{"s":"Obs Q","d":216,"q":45000},{"s":"Obs Q","d":218.7,"q":44300},{"s":"Obs Q","d":221,"q":41700},{"s":"Obs Q","d":223,"q":42000},{"s":"Obs Q","d":226.6,"q":43200},{"s":"Obs Q","d":229,"q":43700},{"s":"Obs Q","d":232,"q":44000},{"s":"Obs Q","d":235,"q":44200},{"s":"Obs Q","d":237,"q":44300},{"s":"Obs Q","d":240,"q":45000},{"s":"Obs Q","d":243.6,"q":43700},{"s":"Obs Q","d":246.4,"q":42800},{"s":"Obs Q","d":250,"q":42000},{"s":"Obs Q","d":253,"q":41400},{"s":"Obs Q","d":256,"q":40500},{"s":"Obs Q","d":258,"q":39700},{"s":"Obs Q","d":260,"q":39700},{"s":"Obs Q","d":262,"q":40000},{"s":"Obs Q","d":264,"q":38800},{"s":"Obs Q","d":266,"q":37500},{"s":"Obs Q","d":268,"q":36000},{"s":"Obs Q","d":271.4,"q":35200},{"s":"Obs Q","d":275,"q":32500},{"s":"Obs Q","d":280,"q":30300},{"s":"Obs Q","d":283,"q":28600},{"s":"Obs Q","d":287,"q":25500},{"s":"Obs Q","d":291,"q":22800},{"s":"Obs Q","d":294,"q":21000},{"s":"Obs Q","d":298,"q":19800},{"s":"Obs Q","d":301,"q":17600},{"s":"Obs Q","d":304.7,"q":15500},{"s":"Obs Q","d":309,"q":13700},{"s":"Obs Q","d":314,"q":12500},{"s":"Obs Q","d":318,"q":11500},{"s":"Obs Q","d":323,"q":10400},{"s":"Obs Q","d":329,"q":9500},{"s":"Obs Q","d":335,"q":8600},{"s":"Obs Q","d":341,"q":7800},{"s":"Obs Q","d":348,"q":7100},{"s":"Obs Q","d":355,"q":6600},{"s":"Obs Q","d":360,"q":6300},{"s":"Obs Q","d":365,"q":6000}
]
},
"vconcat": [
{
  "title": {"text": "A", "anchor": "start", "fontSize": 24, "fontWeight": "bold", "color": "#000000", "offset": -17, "dx": 48},
  "vconcat": [{
    "title": {"text": "Observed vs Simulated, Mean Daily Qw, 1976-2004, Ganges RIver", "frame": "group", "anchor": "middle", "offset": 38},
    "width": 919, "height": 457,
    "data": {"name": "ganges"},
    "mark": {"type": "line", "strokeWidth": 2.5, "interpolate": "monotone"},
    "encoding": {
      "x": {"field": "d", "type": "quantitative", "scale": {"domain": [0, 365], "nice": false, "zero": false}, "axis": {"values": [0,25,50,75,100,125,150,175,200,225,250,275,300,325,350], "title": "Day of Year", "labelPadding": 14, "titlePadding": 17}},
      "y": {"field": "q", "type": "quantitative", "scale": {"domain": [0, 120000], "nice": false}, "axis": {"values": [0,20000,40000,60000,80000,100000,120000], "format": ",.0f", "title": "Water Discharge (m3/s)", "labelPadding": 18, "titlePadding": 13}},
      "color": {"field": "s", "type": "nominal", "scale": {"domain": ["GFDL-ESM2M","HadGEM2","IPSL-CM5A","MIROC-ESM-CHEM","NORESM-M","Obs Q"], "range": ["#c9c9c9","#808080","#7f7f7f","#3a3a3a","#111111","#5b9bd5"]}, "legend": {"title": null, "legendX": 124, "legendY": -37, "columnPadding": 14}},
      "strokeDash": {"field": "s", "type": "nominal", "scale": {"domain": ["GFDL-ESM2M","HadGEM2","IPSL-CM5A","MIROC-ESM-CHEM","NORESM-M","Obs Q"], "range": [[1,0],[7,4],[1,0],[10,5,2,5],[1,0],[1,0]]}, "legend": {"title": null, "legendX": 124, "legendY": -37, "columnPadding": 14}}
    }
  }]
},
{
  "title": {"text": "B", "anchor": "start", "fontSize": 24, "fontWeight": "bold", "color": "#000000", "offset": -17, "dx": 55},
  "vconcat": [{
    "title": {"text": "Observed vs Simulated, Mean Daily Qw, 1976-2002, Brahmaputra RIver", "frame": "group", "anchor": "middle", "offset": 38},
    "width": 919, "height": 455,
    "data": {"name": "brahma"},
    "mark": {"type": "line", "strokeWidth": 2.5, "interpolate": "monotone"},
    "encoding": {
      "x": {"field": "d", "type": "quantitative", "scale": {"domain": [0, 365], "nice": false, "zero": false}, "axis": {"values": [0,25,50,75,100,125,150,175,200,225,250,275,300,325,350], "title": "Day of Year", "labelPadding": 14, "titlePadding": 17}},
      "y": {"field": "q", "type": "quantitative", "scale": {"domain": [0, 70000], "nice": false}, "axis": {"values": [0,10000,20000,30000,40000,50000,60000,70000], "format": ",.0f", "title": "Water Discharge (m3/s)", "labelPadding": 18, "titlePadding": 22}},
      "color": {"field": "s", "type": "nominal", "scale": {"domain": ["GFDL-ESM2M","HadGEM2","IPSL-CM5A","MIROC-ESM-CHEM","NORESM-M","Obs Q"], "range": ["#c9c9c9","#808080","#7f7f7f","#3a3a3a","#111111","#70ad47"]}, "legend": {"title": null, "legendX": 74, "legendY": -34, "columnPadding": 30}},
      "strokeDash": {"field": "s", "type": "nominal", "scale": {"domain": ["GFDL-ESM2M","HadGEM2","IPSL-CM5A","MIROC-ESM-CHEM","NORESM-M","Obs Q"], "range": [[1,0],[7,4],[1,0],[10,5,2,5],[1,0],[1,0]]}, "legend": {"title": null, "legendX": 74, "legendY": -34, "columnPadding": 30}}
    }
  }]
}
]
}
